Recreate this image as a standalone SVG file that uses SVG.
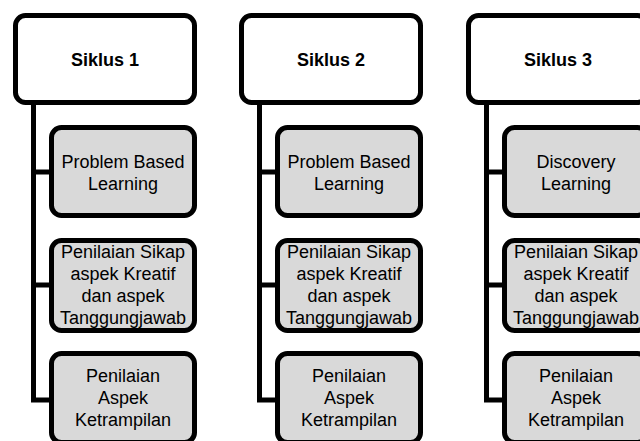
<svg xmlns="http://www.w3.org/2000/svg" width="640" height="441" viewBox="0 0 640 441">
<style>
.main{fill:#ffffff;stroke:#000;stroke-width:5}
.sub{fill:#d9d9d9;stroke:#000;stroke-width:5}
.conn{fill:none;stroke:#000;stroke-width:5;stroke-linejoin:round}
.t{font-family:"Liberation Sans",Arial,sans-serif;font-size:18px;fill:#000;text-anchor:middle}
.b{font-weight:bold}
</style>
<rect width="640" height="441" fill="#ffffff"/>
<g id="connectors">
<path class="conn" d="M33.5 103 V400 M33.5 172 H52 M33.5 285 H52 M31 400 H52"/>
<path class="conn" d="M259.5 103 V400 M259.5 172 H278 M259.5 285 H278 M257 400 H278"/>
<path class="conn" d="M486.5 103 V400 M486.5 172 H505 M486.5 285 H505 M484 400 H505"/>
</g>
<g id="siklus1">
<rect class="main" x="15.5" y="15.5" width="179" height="87" rx="10"/>
<text class="t b" x="105" y="66">Siklus 1</text>
</g>
<g id="s1-pbl">
<rect class="sub" x="51.5" y="127.5" width="143" height="88" rx="10"/>
<text class="t" x="123" y="168">Problem Based</text>
<text class="t" x="123" y="190">Learning</text>
</g>
<g id="s1-sikap">
<rect class="sub" x="51.5" y="240.5" width="143" height="90" rx="10"/>
<text class="t" x="123" y="258">Penilaian Sikap</text>
<text class="t" x="123" y="280">aspek Kreatif</text>
<text class="t" x="123" y="302">dan aspek</text>
<text class="t" x="123" y="324">Tanggungjawab</text>
</g>
<g id="s1-ketrampilan">
<rect class="sub" x="51.5" y="353.5" width="143" height="89" rx="10"/>
<text class="t" x="123" y="382">Penilaian</text>
<text class="t" x="123" y="404">Aspek</text>
<text class="t" x="123" y="426">Ketrampilan</text>
</g>
<g id="siklus2">
<rect class="main" x="241.5" y="15.5" width="179" height="87" rx="10"/>
<text class="t b" x="331" y="66">Siklus 2</text>
</g>
<g id="s2-pbl">
<rect class="sub" x="277.5" y="127.5" width="143" height="88" rx="10"/>
<text class="t" x="349" y="168">Problem Based</text>
<text class="t" x="349" y="190">Learning</text>
</g>
<g id="s2-sikap">
<rect class="sub" x="277.5" y="240.5" width="143" height="90" rx="10"/>
<text class="t" x="349" y="258">Penilaian Sikap</text>
<text class="t" x="349" y="280">aspek Kreatif</text>
<text class="t" x="349" y="302">dan aspek</text>
<text class="t" x="349" y="324">Tanggungjawab</text>
</g>
<g id="s2-ketrampilan">
<rect class="sub" x="277.5" y="353.5" width="143" height="89" rx="10"/>
<text class="t" x="349" y="382">Penilaian</text>
<text class="t" x="349" y="404">Aspek</text>
<text class="t" x="349" y="426">Ketrampilan</text>
</g>
<g id="siklus3">
<rect class="main" x="468.5" y="15.5" width="179" height="87" rx="10"/>
<text class="t b" x="558" y="66">Siklus 3</text>
</g>
<g id="s3-discovery">
<rect class="sub" x="504.5" y="127.5" width="143" height="88" rx="10"/>
<text class="t" x="576" y="168">Discovery</text>
<text class="t" x="576" y="190">Learning</text>
</g>
<g id="s3-sikap">
<rect class="sub" x="504.5" y="240.5" width="143" height="90" rx="10"/>
<text class="t" x="576" y="258">Penilaian Sikap</text>
<text class="t" x="576" y="280">aspek Kreatif</text>
<text class="t" x="576" y="302">dan aspek</text>
<text class="t" x="576" y="324">Tanggungjawab</text>
</g>
<g id="s3-ketrampilan">
<rect class="sub" x="504.5" y="353.5" width="143" height="89" rx="10"/>
<text class="t" x="576" y="382">Penilaian</text>
<text class="t" x="576" y="404">Aspek</text>
<text class="t" x="576" y="426">Ketrampilan</text>
</g>
</svg>
